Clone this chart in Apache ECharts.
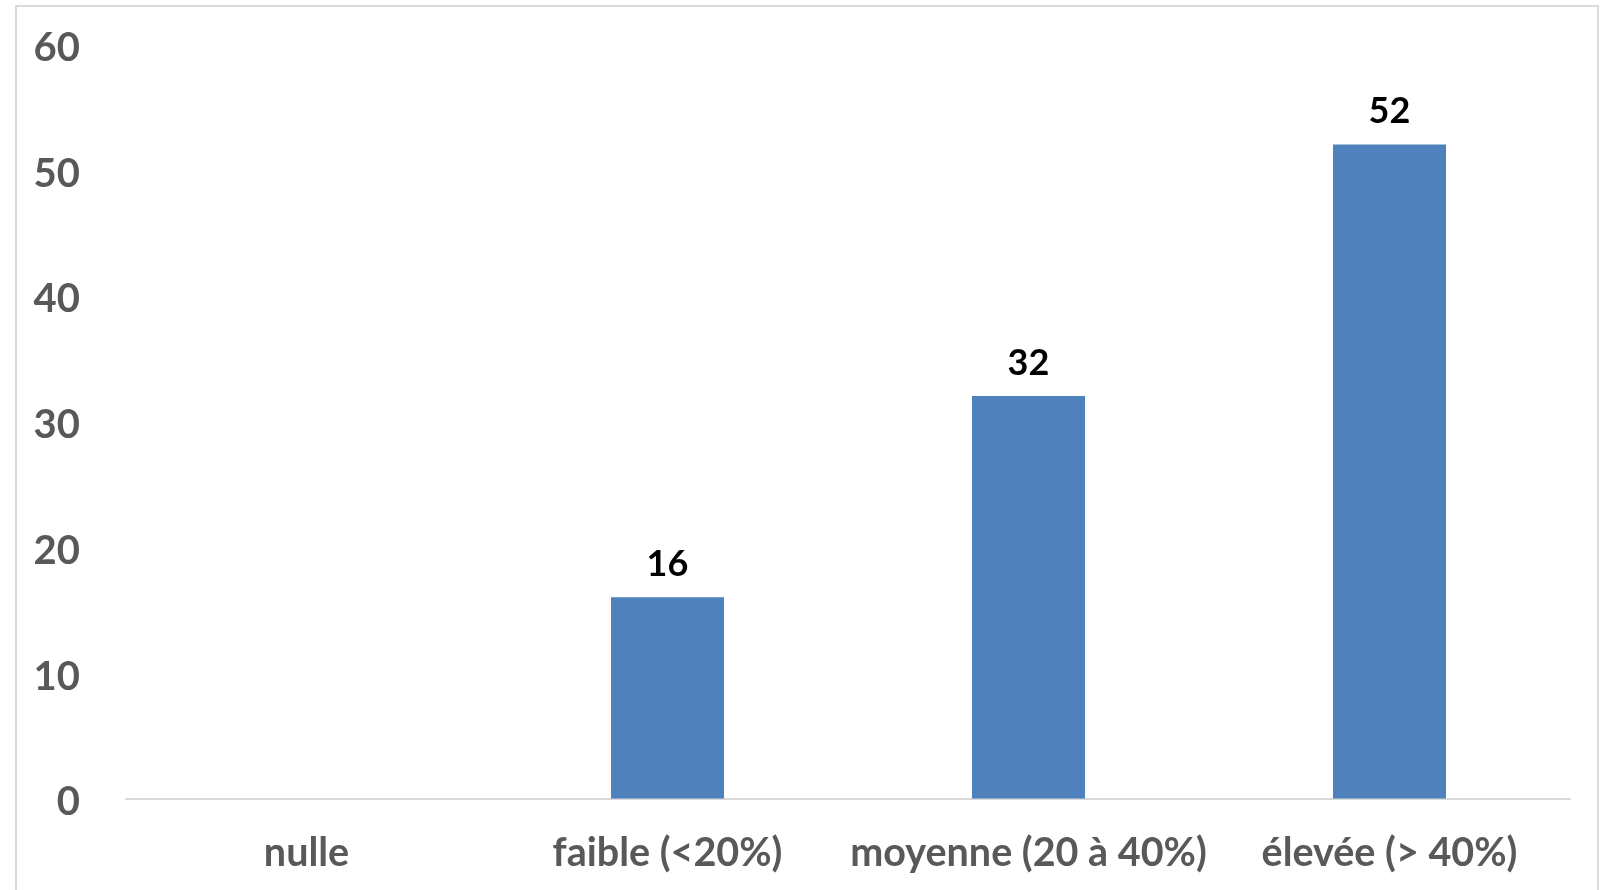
<!DOCTYPE html>
<html><head><meta charset="utf-8">
<script src="https://cdn.jsdelivr.net/npm/echarts@6/dist/echarts.min.js"></script>
<style>
html,body{margin:0;padding:0;background:#fff;overflow:hidden;}
#frame{position:absolute;left:15px;top:5px;width:1584px;height:900px;border:2px solid #D9D9D9;box-sizing:border-box;}
#chart{position:absolute;left:0;top:0;width:1609px;height:890px;}
</style></head>
<body>
<div id="frame"></div>
<div id="chart"></div>
<script>
const categories = ['nulle', 'faible (<20%)', 'moyenne (20 à 40%)', 'élevée (> 40%)'];
const values = [0, 16, 32, 52];
const labels = ['', '16', '32', '52'];
const yTicks = [0, 10, 20, 30, 40, 50, 60];

const chart = echarts.init(document.getElementById('chart'), null, {renderer: 'canvas'});
chart.setOption({
  animation: false,
  grid: {left: 126, right: 39, top: 44, bottom: 91.5, containLabel: false},
  xAxis: {
    type: 'category',
    data: categories,
    axisLine: {lineStyle: {color: '#D9D9D9', width: 2}},
    axisTick: {show: false},
    axisLabel: {interval: 0, hideOverlap: false, color: '#595959', fontFamily: 'Lato', fontWeight: 'bold', fontSize: 39.5, margin: 35}
  },
  yAxis: {
    type: 'value',
    min: yTicks[0], max: yTicks[yTicks.length - 1], interval: 10,
    splitLine: {show: false},
    axisLine: {show: false},
    axisTick: {show: false},
    axisLabel: {
      color: '#595959', margin: 46,
      formatter: v => '{a|' + v + '}',
      rich: {a: {color: '#595959', fontFamily: 'Lato', fontWeight: 'bold', fontSize: 40, padding: [8, 0, 0, 0]}}
    }
  },
  series: [{
    type: 'bar',
    data: values,
    barWidth: '31.3%',
    itemStyle: {color: '#4F81BD'},
    label: {
      show: true, position: 'top', distance: 15,
      color: '#000', fontFamily: 'Lato', fontWeight: 'bold', fontSize: 36,
      formatter: p => labels[p.dataIndex]
    }
  }]
});
</script>
</body></html>
